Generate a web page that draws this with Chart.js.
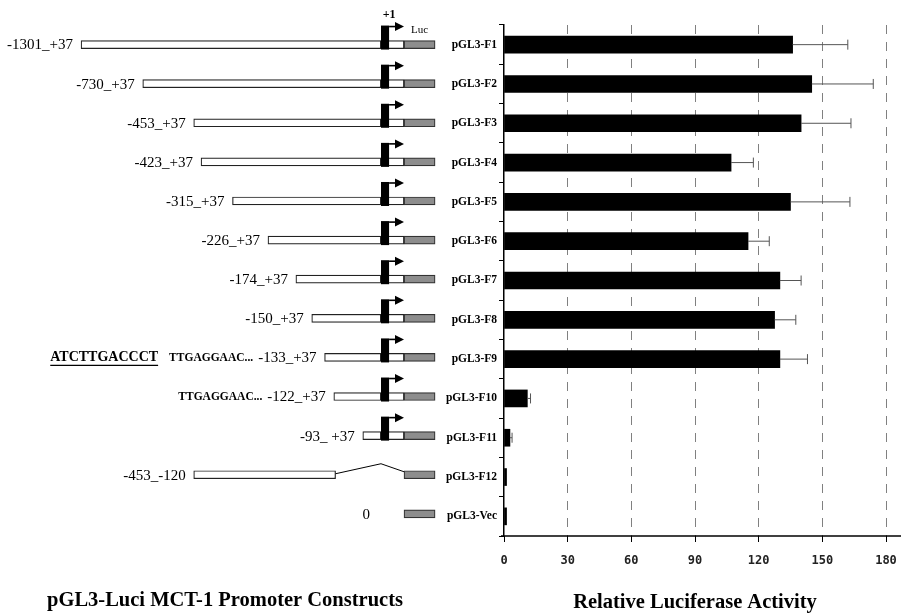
<!DOCTYPE html>
<html>
<head>
<meta charset="utf-8">
<script src="https://cdn.jsdelivr.net/npm/chart.js@4.4.1/dist/chart.umd.min.js"></script>
<style>
  html, body { margin: 0; padding: 0; background: #fff; }
  #wrap { position: relative; width: 901px; height: 616px; overflow: hidden; }
  #cLeft { position: absolute; left: 0; top: 0; }
  #cRight { position: absolute; left: 445px; top: 0; }
</style>
</head>
<body>
<div id="wrap">
  <canvas id="cLeft" width="450" height="616"></canvas>
  <canvas id="cRight" width="456" height="616"></canvas>
</div>
<script>
// ---- data ----
const categories = ['pGL3-F1', 'pGL3-F2', 'pGL3-F3', 'pGL3-F4', 'pGL3-F5', 'pGL3-F6', 'pGL3-F7',
  'pGL3-F8', 'pGL3-F9', 'pGL3-F10', 'pGL3-F11', 'pGL3-F12', 'pGL3-Vec'];
const activity = [136, 145, 140, 107, 135, 115, 130, 127.5, 130, 11, 2.8, 1.2, 1.2];
const activityErr = [26, 29, 23.5, 10.5, 28, 10, 10, 10, 13, 1.5, 1, 0, 0];
const activityTicks = [0, 30, 60, 90, 120, 150, 180];

// promoter constructs (bp relative to +1)
const constructLabels = ['-1301_+37', '-730_+37', '-453_+37', '-423_+37', '-315_+37', '-226_+37',
  '-174_+37', '-150_+37', '-133_+37', '-122_+37', '-93_ +37', '-453_-120', '0'];
const constructStart = [-1301, -730, -453, -423, -315, -226, -174, -150, -133, -122, -93, -453, null];
const constructEnd = [37, 37, 37, 37, 37, 37, 37, 37, 37, 37, 37, -120, null];
const constructSeq = ['', '', '', '', '', '', '', '', 'TTGAGGAAC...', 'TTGAGGAAC...', '', '', ''];
const constructMotif = ['', '', '', '', '', '', '', '', 'ATCTTGACCCT', '', '', '', ''];

// schematic drawing constants (upstream drawn on a log axis, downstream on a linear one)
const TSS_DIST = 78.5;
const TSS_LEN = 13;
const LUC_START = 37;
const LUC_LEN = 50;

const serif = "'Liberation Serif', 'Times New Roman', serif";

// ---------- left: construct diagram ----------
const boxStyle = {
  backgroundColor: '#fff', borderColor: '#222', borderWidth: 1.2, borderSkipped: false,
  barThickness: 8, grouped: false
};

const constructDecor = {
  id: 'constructDecor',
  afterDatasetsDraw(chart) {
    const { ctx } = chart;
    const { xu, xd, y } = chart.scales;
    ctx.save();
    ctx.fillStyle = '#000';
    ctx.strokeStyle = '#000';
    ctx.textBaseline = 'middle';

    constructLabels.forEach((lab, i) => {
      const yc = y.getPixelForValue(i);
      const end = constructEnd[i];
      if (end !== null && end > 0) {
        // +1 block and arrow
        const xl = xd.getPixelForValue(0), xr = xd.getPixelForValue(TSS_LEN);
        ctx.fillRect(xl, yc - 19, xr - xl, 24);
        const ay = yc - 18;
        const tip = xd.getPixelForValue(LUC_START);
        ctx.lineWidth = 1.6;
        ctx.beginPath(); ctx.moveTo(xr, ay); ctx.lineTo(tip - 7, ay); ctx.stroke();
        ctx.beginPath(); ctx.moveTo(tip - 9, ay - 4.5); ctx.lineTo(tip, ay); ctx.lineTo(tip - 9, ay + 4.5);
        ctx.closePath(); ctx.fill();
      } else if (end !== null) {
        // deletion caret
        ctx.lineWidth = 1;
        ctx.beginPath();
        ctx.moveTo(xu.getPixelForValue(-end), yc - 1);
        ctx.lineTo(xd.getPixelForValue(0), yc - 11);
        ctx.lineTo(xd.getPixelForValue(LUC_START), yc - 3);
        ctx.stroke();
      }

      // label text
      const start = constructStart[i];
      const lx = start === null ? xd.getPixelForValue(LUC_START) - 34 : xu.getPixelForValue(-start) - 8;
      ctx.font = '15px ' + serif;
      ctx.textAlign = 'right';
      ctx.fillText(lab, lx, yc + 1);
      let left = lx - ctx.measureText(lab).width;
      if (constructSeq[i]) {
        ctx.font = 'bold 11.5px ' + serif;
        ctx.fillText(constructSeq[i], left - 5, yc + 1);
        left = left - 5 - ctx.measureText(constructSeq[i]).width;
      }
      if (constructMotif[i]) {
        ctx.font = 'bold 14px ' + serif;
        const mx = left - 11;
        ctx.fillText(constructMotif[i], mx, yc);
        const w = ctx.measureText(constructMotif[i]).width;
        ctx.lineWidth = 1.2;
        ctx.beginPath(); ctx.moveTo(mx - w, yc + 8); ctx.lineTo(mx, yc + 8); ctx.stroke();
      }
    });

    // header marks over the first row
    const y0 = y.getPixelForValue(0);
    ctx.textAlign = 'center';
    ctx.font = 'bold 12px ' + serif;
    ctx.fillText('+1', xd.getPixelForValue(TSS_LEN), y0 - 30);
    ctx.font = '11px ' + serif;
    ctx.fillText('Luc', xd.getPixelForValue(LUC_START + LUC_LEN / 2), y0 - 14);
    ctx.restore();
  }
};

new Chart(document.getElementById('cLeft'), {
  type: 'bar',
  data: {
    labels: categories,
    datasets: [
      Object.assign({
        xAxisID: 'xu',
        data: constructStart.map((s, i) => s === null ? null :
          [-s, constructEnd[i] > 0 ? TSS_DIST : -constructEnd[i]])
      }, boxStyle),
      Object.assign({
        xAxisID: 'xd',
        data: constructEnd.map(e => (e !== null && e > 0) ? [0, e] : null)
      }, boxStyle),
      Object.assign({}, boxStyle, {
        xAxisID: 'xd',
        backgroundColor: '#8d8d8d', borderColor: '#333',
        data: categories.map(() => [LUC_START, LUC_START + LUC_LEN])
      })
    ]
  },
  options: {
    indexAxis: 'y',
    responsive: false,
    animation: false,
    layout: { padding: { top: 25, bottom: 0, left: 0, right: 0 } },
    plugins: {
      legend: { display: false },
      tooltip: { enabled: false },
      title: {
        display: true, position: 'bottom',
        text: 'pGL3-Luci MCT-1 Promoter Constructs',
        color: '#000',
        font: { family: serif, size: 20.5, weight: 'bold' },
        padding: { top: 55, bottom: 3 }
      }
    },
    scales: {
      y: { display: false },
      xu: { type: 'logarithmic', display: false, reverse: true, min: 41.1, max: 2779 },
      xd: { type: 'linear', display: false, min: -612.9, max: 111 }
    }
  },
  plugins: [constructDecor]
});

// ---------- right: luciferase activity ----------
const errorBars = {
  id: 'errorBars',
  afterDatasetsDraw(chart) {
    const { ctx, chartArea } = chart;
    const { x, y } = chart.scales;
    ctx.save();
    ctx.strokeStyle = '#555';
    ctx.lineWidth = 1;
    activity.forEach((v, i) => {
      const e = activityErr[i];
      if (!e) return;
      const yc = y.getPixelForValue(i);
      const x0 = x.getPixelForValue(v), x1 = x.getPixelForValue(v + e);
      ctx.beginPath();
      ctx.moveTo(x0, yc); ctx.lineTo(x1, yc);
      ctx.moveTo(x1, yc - 5); ctx.lineTo(x1, yc + 5);
      ctx.stroke();
    });
    // x axis line runs on past the last tick
    ctx.strokeStyle = '#000';
    ctx.lineWidth = 1.5;
    ctx.beginPath();
    ctx.moveTo(chartArea.left - 3, chartArea.bottom);
    ctx.lineTo(chart.width, chartArea.bottom);
    ctx.stroke();
    ctx.restore();
  }
};

new Chart(document.getElementById('cRight'), {
  type: 'bar',
  data: {
    labels: categories,
    datasets: [{
      data: activity,
      backgroundColor: '#000',
      borderWidth: 0,
      barThickness: 17
    }]
  },
  options: {
    indexAxis: 'y',
    responsive: false,
    animation: false,
    layout: { padding: { top: 25, right: 15, left: 0, bottom: 0 } },
    plugins: { legend: { display: false }, tooltip: { enabled: false } },
    scales: {
      x: {
        min: 0, max: 180,
        afterBuildTicks: axis => { axis.ticks = activityTicks.map(v => ({ value: v })); },
        afterFit: axis => { axis.height = 80; axis.paddingRight = 0; axis.paddingLeft = 0; },
        grid: {
          color: c => (c.tick && c.tick.value === 0) ? 'rgba(0,0,0,0)' : '#808080',
          lineWidth: 1,
          tickLength: 6,
          tickColor: '#000',
          tickWidth: 1
        },
        border: { display: false, dash: [9, 8] },
        ticks: {
          color: '#222',
          padding: 12,
          maxRotation: 0,
          font: { family: "'DejaVu Sans Mono', monospace", size: 12, weight: 'bold' }
        },
        title: {
          display: true,
          text: 'Relative Luciferase Activity',
          color: '#000',
          font: { family: serif, size: 20.5, weight: 'bold' },
          padding: { top: 0, bottom: 1 }
        }
      },
      y: {
        afterFit: axis => { axis.width = 59; },
        grid: { offset: true, drawOnChartArea: false, tickLength: 5, color: '#000' },
        border: { color: '#000', width: 1.5 },
        ticks: {
          color: '#000',
          padding: 2,
          font: { family: serif, size: 11.5, weight: 'bold' }
        }
      }
    }
  },
  plugins: [errorBars]
});
</script>
</body>
</html>
